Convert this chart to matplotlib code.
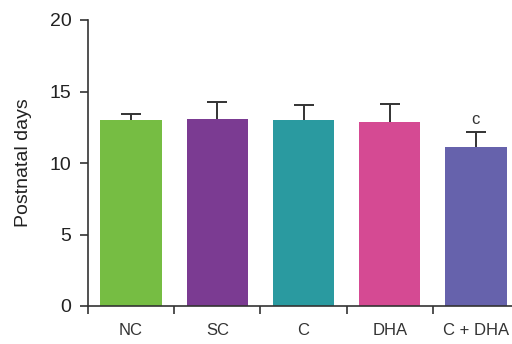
import matplotlib
matplotlib.use("Agg")
import matplotlib.pyplot as plt
import numpy as np

plt.rcParams['font.family'] = ['Liberation Sans', 'DejaVu Sans']

groups = ["NC", "SC", "C", "DHA", "C + DHA"]
means = [13.0, 13.08, 13.0, 12.87, 11.12]
sem = [0.43, 1.22, 1.08, 1.28, 1.07]
colors = ["#76BD43", "#7B3B92", "#2A9AA0", "#D54A93", "#6662AC"]
annotations = ["", "", "", "", "c"]

fig = plt.figure(figsize=(5.12, 3.44), dpi=100)
ax = fig.add_axes([88/512, 1 - 306/344, (519 - 88)/512, (306 - 20)/344])

x = np.arange(len(groups))
ax.bar(x, means, width=0.71, color=colors, zorder=2)
_, caps, _ = ax.errorbar(x, means, yerr=[np.zeros(len(sem)), sem], fmt='none',
                         ecolor='#333333', elinewidth=1.4, capsize=7.5,
                         capthick=1.4, zorder=3)
# one-sided bars: hide the cap sitting on the bar top
caps[0].set_visible(False)

for xi, m, s, t in zip(x, means, sem, annotations):
    if t:
        ax.text(xi, m + s + 0.35, t, ha='center', va='bottom', fontsize=12, color='#333333')

ax.set_xlim(-0.5, 4.5)
ax.set_ylim(0, 20)
ax.set_yticks([0, 5, 10, 15, 20])
ax.set_xticks(np.arange(len(groups) + 1) - 0.5)
ax.set_xticklabels([])
ax.set_xticks(x, minor=True)
ax.set_xticklabels(groups, minor=True)
ax.tick_params(axis='x', which='minor', length=0, pad=12, labelsize=12, colors='#333333')
ax.tick_params(axis='x', which='major', length=6, width=1.2, color='#333333')
ax.tick_params(axis='y', length=6, width=1.2, color='#333333', labelsize=14, pad=6,
               labelcolor='#222222')

for side in ['top', 'right']:
    ax.spines[side].set_visible(False)
for side in ['left', 'bottom']:
    ax.spines[side].set_color('#333333')
    ax.spines[side].set_linewidth(1.2)

ax.set_ylabel("Postnatal days", fontsize=14, color='#222222', labelpad=13)

fig.savefig("out.png", dpi=100)
